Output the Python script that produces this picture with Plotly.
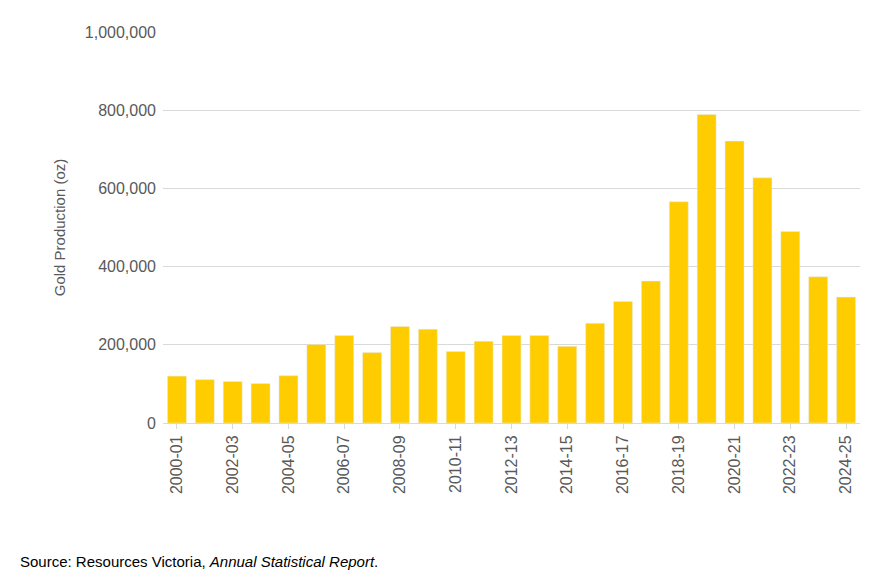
import plotly.graph_objects as go

years = ["2000-01", "2001-02", "2002-03", "2003-04", "2004-05", "2005-06", "2006-07",
         "2007-08", "2008-09", "2009-10", "2010-11", "2011-12", "2012-13", "2013-14",
         "2014-15", "2015-16", "2016-17", "2017-18", "2018-19", "2019-20", "2020-21",
         "2021-22", "2022-23", "2023-24", "2024-25"]
gold_oz = [120000, 111000, 106000, 101000, 121000, 201000, 224000, 180000, 247000, 240000,
           183000, 209000, 224000, 224000, 196000, 255000, 311000, 363000, 566000, 789000,
           721000, 627000, 490000, 374000, 322000]
tick_labels = years[::2]

fig = go.Figure(go.Bar(x=years, y=gold_oz, marker_color="#FFCC00"))

fig.update_layout(
    width=895, height=573,
    margin=dict(l=155, r=43, t=24, b=158),
    plot_bgcolor="white", paper_bgcolor="white",
    font=dict(family="Liberation Sans, Arial", size=16, color="#595959"),
    showlegend=False,
    bargap=0.32,
)
fig.update_yaxes(
    range=[0, 1000000], dtick=200000, tickformat=",", gridcolor="#D9D9D9",
    zeroline=False, ticks="", title=dict(text="Gold Production (oz)", font=dict(size=15)),
    ticklabelstandoff=6,
)
fig.update_xaxes(
    type="category",
    tickmode="array", tickvals=tick_labels, ticktext=tick_labels, tickangle=-90,
    showline=True, linecolor="#D9D9D9", ticks="outside", tickcolor="#D9D9D9", ticklen=5,
)
fig.add_annotation(
    text="Source: Resources Victoria, <i>Annual Statistical Report</i>.",
    xref="paper", yref="paper", x=-0.208, y=-0.355, xanchor="left", yanchor="middle",
    showarrow=False, font=dict(size=15, color="black"),
)

fig.write_html("out.html")
